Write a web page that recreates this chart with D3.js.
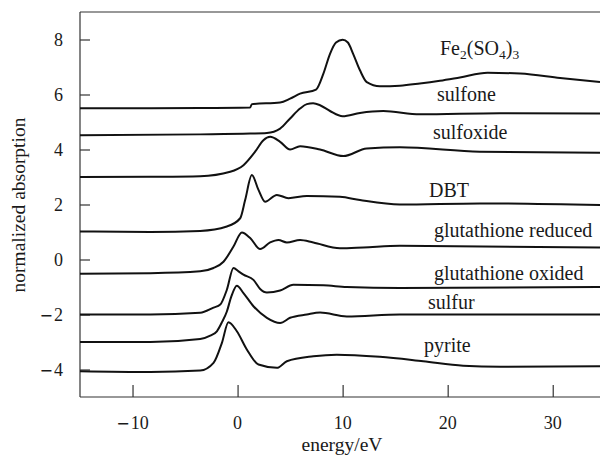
<!DOCTYPE html>
<html>
<head>
<meta charset="utf-8">
<script src="https://cdn.jsdelivr.net/npm/d3@7"></script>
<style>
  html, body { margin: 0; padding: 0; background: #fff; }
  svg { display: block; }
  text { font-family: "Liberation Serif", "DejaVu Serif", "Times New Roman", serif; fill: #1a1a1a; }
</style>
</head>
<body>
<svg id="chart" width="600" height="458"></svg>
<script>
// ---------- data (energy / eV, normalized absorption) ----------
const seriesNames = ["Fe2(SO4)3", "sulfone", "sulfoxide", "DBT",
  "glutathione reduced", "glutathione oxided", "sulfur", "pyrite"];

const fe2so43 = [[-15,5.5],[-3.56,5.51],[1.2,5.53],[1.36,5.65],[4.05,5.71],[5.0,5.85],[5.95,6.03],
  [7.47,6.18],[8.17,6.76],[8.8,7.48],[9.37,7.89],[10.0,7.99],[10.5,7.89],[11.0,7.48],[11.65,6.88],
  [12.3,6.45],[13.55,6.3],[15.45,6.32],[17.35,6.4],[19.26,6.5],[21.16,6.62],[23.8,6.79],
  [26.9,6.76],[30.7,6.6],[34.5,6.45]];

const sulfone = [[-15,4.52],[-3.56,4.55],[1.2,4.58],[2.79,4.6],[4.05,4.76],[5.0,5.13],[5.95,5.49],
  [6.59,5.65],[7.19,5.68],[7.85,5.61],[8.8,5.4],[10.0,5.21],[11.65,5.33],[13.87,5.4],[17.35,5.28],
  [24.96,5.32],[34.5,5.31]];

const sulfoxide = [[-15,3.0],[-8.3,3.01],[-3.56,3.03],[-0.7,3.19],[0.56,3.43],[1.67,3.92],[2.46,4.34],
  [3.1,4.46],[4.05,4.28],[5.0,4.0],[5.95,4.12],[7.85,4.0],[10.07,3.76],[12.3,4.04],[15.45,4.08],
  [23.06,3.92],[34.5,3.88]];

const dbt = [[-15,1.02],[-8.3,1.0],[-3.56,1.04],[-1.02,1.2],[0.25,1.5],[0.72,2.16],[1.36,3.07],
  [1.99,2.53],[2.62,2.1],[3.74,2.35],[4.84,2.23],[6.59,2.31],[9.75,2.28],[11.65,2.16],[15.45,2.0],
  [23.06,2.04],[34.5,1.98]];

const glutathioneReduced = [[-15,-0.52],[-8.3,-0.5],[-3.56,-0.43],[-2.29,-0.31],[-1.34,-0.08],
  [-0.39,0.47],[0.41,0.98],[1.2,0.78],[2.15,0.38],[3.1,0.62],[3.89,0.71],[4.69,0.62],[5.95,0.71],
  [7.21,0.62],[9.75,0.41],[11.97,0.44],[15.45,0.5],[34.5,0.44]];

const glutathioneOxided = [[-15,-2.0],[-8.3,-2.0],[-3.56,-1.94],[-2.29,-1.75],[-1.65,-1.64],
  [-1.02,-1.1],[-0.39,-0.31],[0.09,-0.43],[0.56,-0.55],[1.51,-0.74],[2.15,-1.07],[2.79,-1.2],
  [4.05,-1.13],[5.31,-0.92],[8.17,-0.94],[10.39,-1.0],[15.45,-1.04],[34.5,-1.0]];

const sulfur = [[-15,-3.0],[-8.3,-3.0],[-3.56,-2.89],[-2.6,-2.77],[-1.97,-2.61],[-1.46,-2.26],
  [-1.02,-1.89],[-0.6,-1.35],[-0.07,-0.95],[0.56,-1.22],[1.51,-1.7],[2.79,-2.12],[4.05,-2.31],
  [5.0,-2.12],[6.59,-2.0],[7.85,-1.93],[10.39,-2.07],[15.45,-2.0],[34.5,-2.0]];

const pyrite = [[-15,-4.06],[-8.3,-4.09],[-3.56,-4.04],[-2.29,-3.76],[-1.49,-3.03],[-0.87,-2.28],
  [-0.07,-2.61],[0.88,-3.27],[1.99,-3.82],[3.74,-3.94],[4.69,-3.7],[7.21,-3.52],[9.44,-3.46],
  [13.55,-3.54],[17.67,-3.7],[21.47,-3.86],[25.0,-3.9],[34.5,-3.88]];

const xTickValues = [-10, 0, 10, 20, 30];
const yTickValues = [-4, -2, 0, 2, 4, 6, 8];
const xTitle = "energy/eV";
const yTitle = "normalized absorption";

// ---------- layout ----------
const seriesData = [fe2so43, sulfone, sulfoxide, dbt, glutathioneReduced, glutathioneOxided, sulfur, pyrite];
// label anchor (left, baseline) in pixels
const labelLayout = [[440,55],[437,101],[433,139],[429,197],[434,237],[434,280],[428,309],[424,352]];

const svg = d3.select("#chart");
const pLeft = 80, pRight = 600, pTop = 12, pBottom = 397;
const x = d3.scaleLinear().domain([-15, 34.5]).range([pLeft, pRight]);
const y = d3.scaleLinear().domain([-5, 9]).range([pBottom, pTop]);

const axisColor = "#333";

// frame: left, bottom, top
svg.append("line").attr("x1", pLeft).attr("x2", pLeft).attr("y1", pTop).attr("y2", pBottom)
  .attr("stroke", axisColor).attr("stroke-width", 1.2);
svg.append("line").attr("x1", pLeft).attr("x2", pRight).attr("y1", pBottom).attr("y2", pBottom)
  .attr("stroke", axisColor).attr("stroke-width", 1.2);
svg.append("line").attr("x1", pLeft).attr("x2", pRight).attr("y1", pTop).attr("y2", pTop)
  .attr("stroke", axisColor).attr("stroke-width", 1.2);

// x axis (ticks inward)
const xAxis = d3.axisBottom(x).tickValues(xTickValues).tickSizeInner(-12).tickSizeOuter(0).tickFormat("");
const gx = svg.append("g").attr("transform", `translate(0,${pBottom})`).call(xAxis);
gx.select(".domain").remove();
gx.selectAll(".tick line").attr("stroke", axisColor).attr("stroke-width", 1.2);

// y axis (ticks inward)
const yAxis = d3.axisLeft(y).tickValues(yTickValues).tickSizeInner(-10).tickSizeOuter(0).tickFormat("");
const gy = svg.append("g").attr("transform", `translate(${pLeft},0)`).call(yAxis);
gy.select(".domain").remove();
gy.selectAll(".tick line").attr("stroke", axisColor).attr("stroke-width", 1.2);

function addNumber(sel, v) {
  if (v < 0) {
    sel.append("tspan").style("font-family", "DejaVu Sans").style("font-size", "16px").text("\u2212");
    sel.append("tspan").attr("dx", 1).text(String(Math.abs(v)));
  } else {
    sel.text(String(v));
  }
}

// x tick labels
xTickValues.forEach(v => {
  const t = svg.append("text").attr("x", x(v)).attr("y", 429)
    .attr("text-anchor", "middle").style("font-size", "18px");
  addNumber(t, v);
});
// y tick labels
yTickValues.forEach(v => {
  const t = svg.append("text").attr("x", 63).attr("y", y(v) + 6)
    .attr("text-anchor", "end").style("font-size", "18px");
  addNumber(t, v);
});

// titles
svg.append("text").attr("x", 342).attr("y", 451).attr("text-anchor", "middle")
  .style("font-size", "19.5px").text(xTitle);
svg.append("text").attr("transform", `translate(25,205) rotate(-90)`).attr("text-anchor", "middle")
  .style("font-size", "19.5px").text(yTitle);

// curves
const line = d3.line().x(d => x(d[0])).y(d => y(d[1])).curve(d3.curveMonotoneX);
svg.append("g").selectAll("path").data(seriesData).join("path")
  .attr("d", line).attr("fill", "none").attr("stroke", "#111").attr("stroke-width", 2)
  .attr("stroke-linejoin", "round");

// series labels
seriesNames.forEach((name, i) => {
  const [lx, ly] = labelLayout[i];
  const t = svg.append("text").attr("x", lx).attr("y", ly).style("font-size", "20px");
  if (name === "Fe2(SO4)3") {
    t.append("tspan").text("Fe");
    t.append("tspan").attr("dy", 4).style("font-size", "13.5px").text("2");
    t.append("tspan").attr("dy", -4).text("(SO");
    t.append("tspan").attr("dy", 4).style("font-size", "13.5px").text("4");
    t.append("tspan").attr("dy", -4).text(")");
    t.append("tspan").attr("dy", 4).style("font-size", "13.5px").text("3");
  } else {
    t.text(name);
  }
});
</script>
</body>
</html>
